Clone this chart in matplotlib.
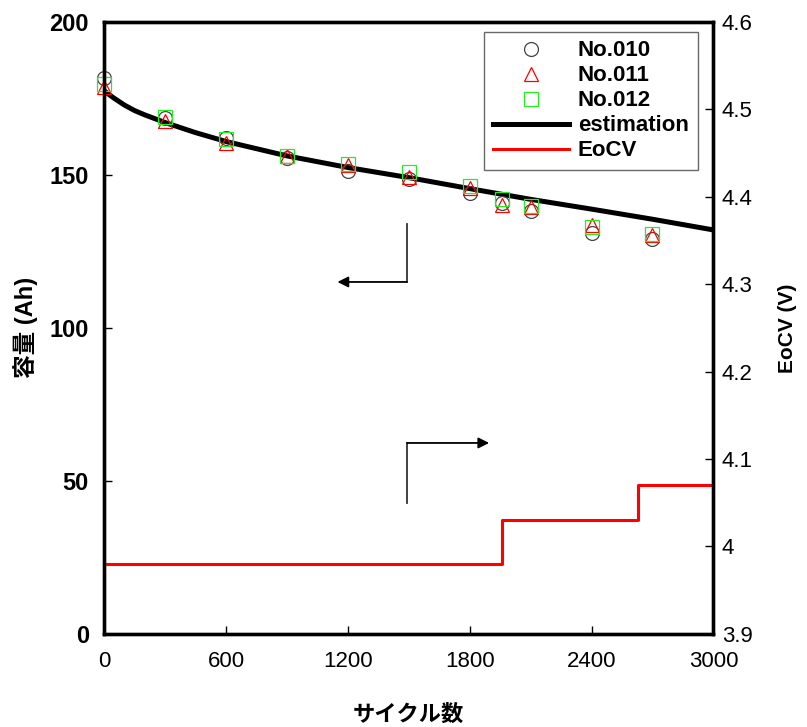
import numpy as np
import matplotlib
matplotlib.use('Agg')
import matplotlib.pyplot as plt
from matplotlib.ticker import FuncFormatter

plt.rcParams['font.family'] = ['Liberation Sans', 'Noto Sans CJK JP']

# measured capacity (Ah) per cycle
cycles = [0, 300, 600, 900, 1200, 1500, 1800, 1960, 2100, 2400, 2700]
no010 = [181.5, 168.5, 162.0, 155.5, 151.3, 148.5, 144.2, 140.7, 138.2, 131.0, 129.0]
no011 = [178.6, 167.5, 160.3, 156.0, 153.2, 149.3, 145.6, 140.2, 139.6, 133.6, 130.4]
no012 = [179.8, 168.9, 161.8, 156.2, 153.5, 150.8, 146.4, 142.2, 139.8, 133.0, 130.6]

# estimation curve
est_x = [0, 25, 50, 100, 150, 200, 300, 450, 600, 900, 1200, 1500, 1800, 2100, 2400, 2700, 3000]
est_y = [177.5, 176.2, 175.0, 172.8, 171.0, 169.6, 167.1, 163.8, 160.9, 156.2, 152.4, 149.1, 145.5, 142.0, 138.8, 135.5, 132.0]

# end of charge voltage steps
eocv_x = [0, 1960, 2630, 3000]
eocv_y = [3.98, 4.03, 4.07, 4.07]

fig = plt.figure(figsize=(8.07, 7.27), dpi=100)
ax = fig.add_axes([0.129, 0.128, 0.755, 0.842])
ax2 = ax.twinx()

est_line, = ax.plot(est_x, est_y, color='black', lw=3.6, zorder=2, label='estimation')
h1, = ax.plot(cycles, no010, ls='none', marker='o', ms=10, mfc='none', mec='#444444', mew=0.9,
              zorder=3, clip_on=False, label='No.010')
h2, = ax.plot(cycles, no011, ls='none', marker='^', ms=10, mfc='none', mec='red', mew=0.9,
              zorder=4, clip_on=False, label='No.011')
h3, = ax.plot(cycles, no012, ls='none', marker='s', ms=10, mfc='none', mec='#22ee22', mew=0.9,
              zorder=5, clip_on=False, label='No.012')

eocv_line, = ax2.plot(eocv_x, eocv_y, color='red', lw=2.2, drawstyle='steps-post', label='EoCV')

ax.set_xlim(0, 3000)
ax.set_ylim(0, 200)
ax2.set_ylim(3.9, 4.6)
ax.set_xticks(np.arange(0, 3001, 600))
ax.set_yticks(np.arange(0, 201, 50))
ax2.set_yticks(np.arange(3.9, 4.61, 0.1))
ax2.yaxis.set_major_formatter(FuncFormatter(lambda v, p: '%g' % round(v, 1)))

for a in (ax, ax2):
    for s in a.spines.values():
        s.set_linewidth(2.4)
    a.tick_params(direction='in', length=6, width=1.0)

ax.tick_params(axis='x', labelsize=16, pad=12)
ax.tick_params(axis='y', labelsize=17, pad=11)
for t in ax.get_yticklabels():
    t.set_fontweight('bold')
ax2.tick_params(axis='y', labelsize=16, pad=6)

ax.set_xlabel('サイクル数', fontsize=16, fontweight='bold', labelpad=24)
ax.set_ylabel('容量 (Ah)', fontsize=17, fontweight='bold', labelpad=8)
ax2.set_ylabel('EoCV (V)', fontsize=15, fontweight='bold', labelpad=18)

leg = ax2.legend(handles=[h1, h2, h3, est_line, eocv_line], loc='upper right',
                 bbox_to_anchor=(0.974, 0.984), borderaxespad=0, prop={'weight': 'bold', 'size': 16},
                 frameon=True, fancybox=False, edgecolor='#444444', handlelength=3.4,
                 handletextpad=0.4, labelspacing=0.18, borderpad=0.4)
leg.get_frame().set_linewidth(1.0)

# arrows pointing to the axis each curve belongs to
arrow_kw = dict(arrowstyle='-|>', color='black', lw=1.3, mutation_scale=16, shrinkA=0, shrinkB=0)
ax.plot([0.497, 0.497], [0.669, 0.575], transform=ax.transAxes, color='#333333', lw=1.3)
ax.annotate('', xy=(0.383, 0.575), xytext=(0.497, 0.575), xycoords='axes fraction',
            arrowprops=arrow_kw)
ax.plot([0.497, 0.497], [0.214, 0.312], transform=ax.transAxes, color='#333333', lw=1.3)
ax.annotate('', xy=(0.632, 0.312), xytext=(0.497, 0.312), xycoords='axes fraction',
            arrowprops=arrow_kw)

fig.savefig('out.png', dpi=100)
